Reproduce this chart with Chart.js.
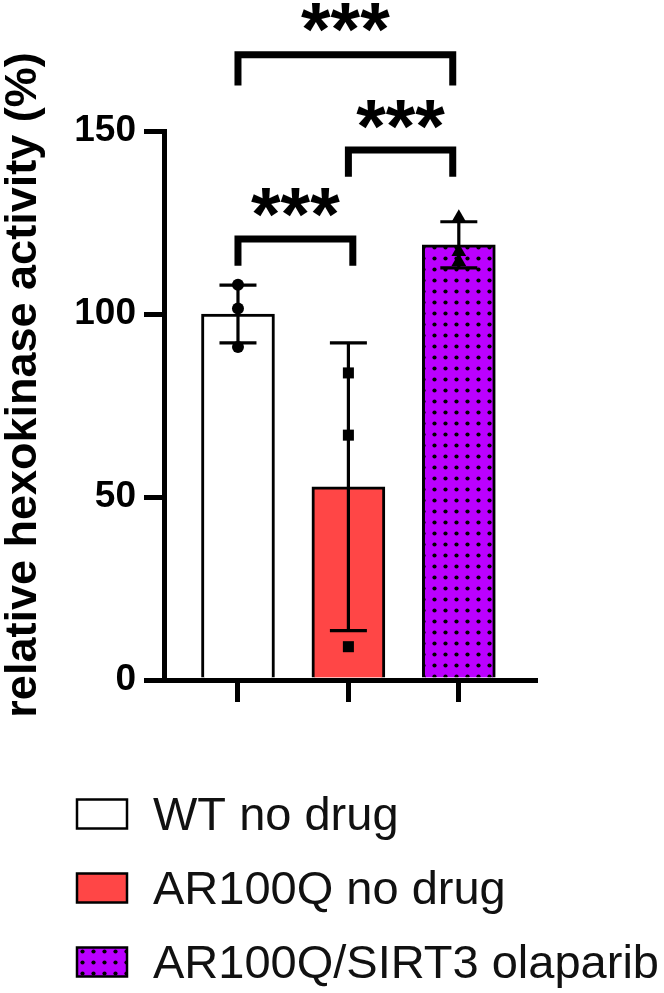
<!DOCTYPE html>
<html><head><meta charset="utf-8">
<script src="https://cdn.jsdelivr.net/npm/chart.js@4.4.1/dist/chart.umd.min.js"></script>
<style>html,body{margin:0;padding:0;background:#fff}#wrap{width:664px;height:993px;position:relative}</style>
</head><body><div id="wrap"><canvas id="c" width="664" height="993"></canvas></div>
<script>
// ---- data ----
const categories = ['WT no drug', 'AR100Q no drug', 'AR100Q/SIRT3 olaparib'];
const means = [100, 52.8, 118.9];
const sds = [7.9, 39.3, 6.3];
const pointsWT = [108, 101.5, 91];
const pointsAR = [83.9, 66.9, 9.1];
const pointsSIRT = [126.3, 117, 114.3];
const yTicks = [0, 50, 100, 150];
const yTitle = 'relative hexokinase activity (%)';
const bracketFrom = [0, 1, 0];
const bracketTo = [1.04, 1.945, 1.945];
const bracketTop = [120.5, 144.8, 170.8];
const bracketLeg = [113.2, 137.5, 162.4];
const starLabels = ['***', '***', '***'];
const starY = [130.5, 154.4, 181.1];

const FONT = "'Liberation Sans', Arial, sans-serif";
const canvas = document.getElementById('c');
const ctx = canvas.getContext('2d');

function makePattern(c) {
  const pc = document.createElement('canvas');
  pc.width = 11; pc.height = 11;
  const g = pc.getContext('2d');
  g.fillStyle = '#BB00FF'; g.fillRect(0, 0, 11, 11);
  g.fillStyle = '#000';
  g.beginPath(); g.arc(5.5, 5.5, 2.1, 0, Math.PI * 2); g.fill();
  return c.createPattern(pc, 'repeat');
}
const purple = makePattern(ctx);
const fills = ['#FFFFFF', '#FF4646', purple];

const errorBars = {
  id: 'errorBars',
  afterDatasetDraw(chart, args) {
    if (args.index !== 0) return;
    const c = chart.ctx, xs = chart.scales.x, ys = chart.scales.y;
    c.save();
    c.strokeStyle = '#000'; c.lineWidth = 3.2;
    means.forEach((m, i) => {
      const x = xs.getPixelForValue(i);
      const yt = ys.getPixelForValue(m + sds[i]);
      const yb = ys.getPixelForValue(m - sds[i]);
      c.beginPath();
      c.moveTo(x, yt); c.lineTo(x, yb);
      c.moveTo(x - 18.5, yt); c.lineTo(x + 18.5, yt);
      c.moveTo(x - 18.5, yb); c.lineTo(x + 18.5, yb);
      c.stroke();
    });
    c.restore();
  }
};

const annotations = {
  id: 'annotations',
  afterDraw(chart) {
    const c = chart.ctx, xs = chart.scales.x, ys = chart.scales.y;
    c.save();
    // brackets
    c.strokeStyle = '#000'; c.lineWidth = 7; c.lineJoin = 'miter'; c.lineCap = 'butt';
    bracketFrom.forEach((f, i) => {
      const x1 = xs.getPixelForValue(f), x2 = xs.getPixelForValue(bracketTo[i]);
      const yh = ys.getPixelForValue(bracketTop[i]), yl = ys.getPixelForValue(bracketLeg[i]);
      c.beginPath();
      c.moveTo(x1, yl); c.lineTo(x1, yh); c.lineTo(x2, yh); c.lineTo(x2, yl);
      c.stroke();
      // stars
      c.fillStyle = '#000';
      c.font = 'bold 76px ' + FONT;
      c.textAlign = 'center'; c.textBaseline = 'alphabetic';
      const m = c.measureText(starLabels[i]);
      const cy = ys.getPixelForValue(starY[i]);
      c.fillText(starLabels[i], (x1 + x2) / 2, cy + (m.actualBoundingBoxAscent - m.actualBoundingBoxDescent) / 2);
    });
    // y title
    c.save();
    c.translate(35.5, 385);
    c.rotate(-Math.PI / 2);
    c.font = 'bold 45px ' + FONT;
    c.textAlign = 'center'; c.textBaseline = 'alphabetic';
    c.fillStyle = '#000';
    c.fillText(yTitle, 0, 0);
    c.restore();
    // legend
    const rows = [814, 888, 962];
    categories.forEach((lab, i) => {
      const cy = rows[i];
      c.fillStyle = fills[i];
      c.fillRect(77, cy - 14.5, 50, 29);
      c.strokeStyle = '#000'; c.lineWidth = 2.5;
      c.strokeRect(77, cy - 14.5, 50, 29);
      c.fillStyle = '#111';
      c.font = '47px ' + FONT;
      c.textAlign = 'left'; c.textBaseline = 'alphabetic';
      c.fillText(lab, 153, cy + 16);
    });
    c.restore();
  }
};

new Chart(ctx, {
  data: {
    datasets: [
      { type: 'bar', data: means.map((m, i) => ({ x: i, y: m })), backgroundColor: fills,
        borderColor: '#000', borderWidth: 3, barThickness: 73, order: 2 },
      { type: 'scatter', data: pointsWT.map(v => ({ x: 0, y: v })), pointStyle: 'circle',
        pointRadius: 6, backgroundColor: '#000', borderColor: '#000', borderWidth: 0, order: 1 },
      { type: 'scatter', data: pointsAR.map(v => ({ x: 1, y: v })), pointStyle: 'rect',
        pointRadius: 7.8, backgroundColor: '#000', borderColor: '#000', borderWidth: 0, order: 1 },
      { type: 'scatter', data: pointsSIRT.map(v => ({ x: 2, y: v })), pointStyle: 'triangle',
        pointRadius: 8.5, backgroundColor: '#000', borderColor: '#000', borderWidth: 0, order: 1 }
    ]
  },
  options: {
    responsive: false, animation: false, events: [],
    layout: { padding: { top: 131, right: 129, left: 0, bottom: 0 } },
    plugins: { legend: { display: false }, tooltip: { enabled: false } },
    scales: {
      x: {
        type: 'linear', min: -0.67, max: 2.69, offset: false,
        afterBuildTicks(s) { s.ticks = categories.map((c, i) => ({ value: i })); },
        ticks: { display: false },
        grid: { offset: false, drawOnChartArea: false, drawTicks: true, tickLength: 22, lineWidth: 5, color: '#000' },
        border: { display: true, width: 5, color: '#000' },
        afterFit(s) { s.height = 313; }
      },
      y: {
        type: 'linear', min: 0, max: 150,
        afterBuildTicks(s) { s.ticks = yTicks.map(v => ({ value: v })); },
        ticks: { font: { family: FONT, weight: 'bold', size: 37 }, color: '#000', padding: 8 },
        grid: { drawOnChartArea: false, drawTicks: true, tickLength: 20, lineWidth: 5, color: '#000' },
        border: { display: true, width: 5, color: '#000' },
        afterFit(s) { s.width = 164; }
      }
    }
  },
  plugins: [errorBars, annotations]
});
</script></body></html>
